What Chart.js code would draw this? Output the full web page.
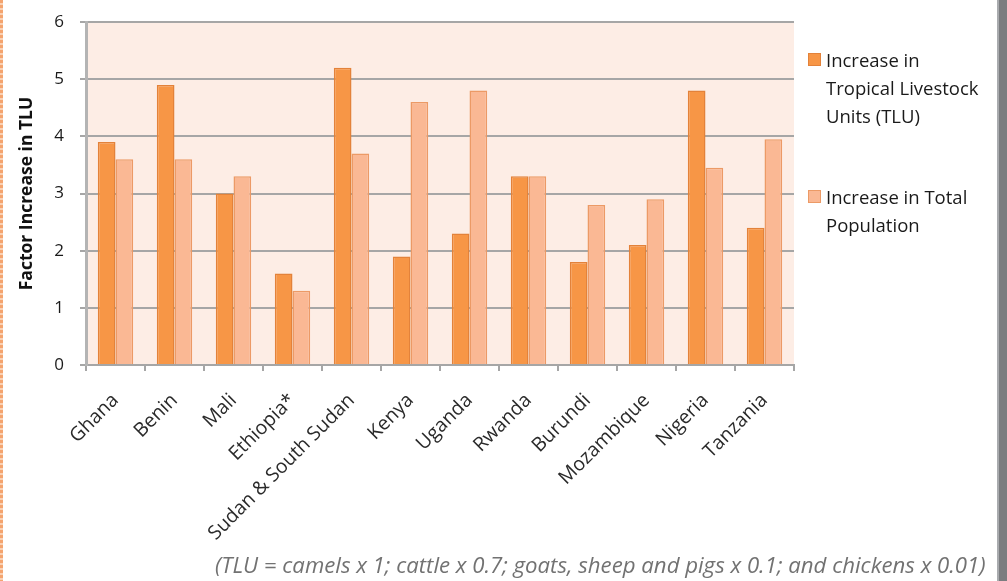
<!DOCTYPE html>
<html>
<head>
<meta charset="utf-8">
<script src="https://cdn.jsdelivr.net/npm/chart.js"></script>
<style>
  html, body { margin: 0; padding: 0; background: #fff; }
  #wrap { position: relative; width: 1007px; height: 581px; overflow: hidden; font-family: "Open Sans", sans-serif; }
  #wrap canvas { position: absolute; left: 0; top: 0; }
  .edgeL { position: absolute; left: 0; top: 0; width: 3px; height: 581px;
    background: repeating-linear-gradient(to bottom, #f4a46e 0 3px, #fbd2b4 3px 5px); }
  .edgeR { position: absolute; left: 997px; top: 0; width: 10px; height: 581px; background: #7b7d80; border-left: 2px solid #a9abae; box-sizing: border-box; }
  .legend { position: absolute; left: 808px; font-size: 18.5px; line-height: 28px; color: #1a1a1a; white-space: nowrap; }
  .legend .sw { position: absolute; left: 0; top: 7px; width: 13px; height: 13px; box-sizing: border-box; }
  .legend .tx { margin-left: 18px; }
  .caption { position: absolute; top: 549px; left: 215px; font-size: 22.2px; font-style: italic; color: #727272; white-space: nowrap; }
</style>
</head>
<body>
<div id="wrap">
  <canvas id="c" width="1007" height="581"></canvas>
  <div class="edgeL"></div>
  <div class="edgeR"></div>
  <div class="legend" style="top:46px"><span class="sw" style="background:#f79646;border:1px solid #e3823a"></span><div class="tx">Increase in<br>Tropical Livestock<br>Units (TLU)</div></div>
  <div class="legend" style="top:183px"><span class="sw" style="background:#fab894;border:1px solid #ec9a66"></span><div class="tx">Increase in Total<br>Population</div></div>
  <div class="caption">(TLU = camels x 1; cattle x 0.7; goats, sheep and pigs x 0.1; and chickens x 0.01)</div>
</div>
<script>
// valores
const countries = ['Ghana', 'Benin', 'Mali', 'Ethiopia*', 'Sudan & South Sudan', 'Kenya', 'Uganda', 'Rwanda', 'Burundi', 'Mozambique', 'Nigeria', 'Tanzania'];
const tluIncrease = [3.9, 4.9, 3.0, 1.6, 5.2, 1.9, 2.3, 3.3, 1.8, 2.1, 4.8, 2.4];
const popIncrease = [3.6, 3.6, 3.3, 1.3, 3.7, 4.6, 4.8, 3.3, 2.8, 2.9, 3.45, 3.95];
const yTicks = [0, 1, 2, 3, 4, 5, 6];

const plotBg = {
  id: 'plotBg',
  beforeDraw(chart) {
    const a = chart.chartArea, ctx = chart.ctx;
    ctx.save();
    ctx.fillStyle = '#fdede5';
    ctx.fillRect(a.left, a.top, a.right - a.left, a.bottom - a.top);
    ctx.restore();
  }
};

new Chart(document.getElementById('c').getContext('2d'), {
  type: 'bar',
  data: {
    labels: countries,
    datasets: [{
      label: 'Increase in Tropical Livestock Units (TLU)',
      data: tluIncrease,
      backgroundColor: '#f79646',
      borderColor: '#e3823a',
      borderWidth: 1.5
    }, {
      label: 'Increase in Total Population',
      data: popIncrease,
      backgroundColor: '#fab894',
      borderColor: '#ec9a66',
      borderWidth: 1.5
    }]
  },
  options: {
    responsive: false,
    animation: false,
    layout: { padding: { left: 0, top: 22, right: 213, bottom: 0 } },
    plugins: {
      legend: { display: false },
      tooltip: { enabled: false }
    },
    datasets: { bar: { categoryPercentage: 0.6, barPercentage: 1.0 } },
    scales: {
      x: {
        afterFit: (s) => { s.height = 216; },
        grid: { drawOnChartArea: false, drawTicks: true, tickLength: 6, color: '#a6a6a6', lineWidth: 2, offset: true },
        border: { color: '#a6a6a6', width: 2 },
        ticks: {
          minRotation: 45, maxRotation: 45, autoSkip: false, padding: 18,
          color: '#2a2a2a', font: { family: 'Open Sans', size: 19.5 }
        }
      },
      y: {
        min: 0, max: 6,
        afterFit: (s) => { s.width = 86; s.paddingTop = 0; s.paddingBottom = 0; },
        afterBuildTicks: (s) => { s.ticks = yTicks.map(v => ({ value: v })); },
        grid: { color: '#a6a6a6', lineWidth: 2, tickLength: 6 },
        border: { color: '#b4b4b4', width: 3 },
        ticks: { padding: 16, color: '#1a1a1a', font: { family: 'Open Sans', size: 17 } },
        title: {
          display: true, text: 'Factor Increase in TLU',
          color: '#111', font: { family: 'Open Sans', size: 17.5, weight: 'bold' },
          padding: { top: 17, bottom: 0 }
        }
      }
    }
  },
  plugins: [plotBg]
});
</script>
</body>
</html>
